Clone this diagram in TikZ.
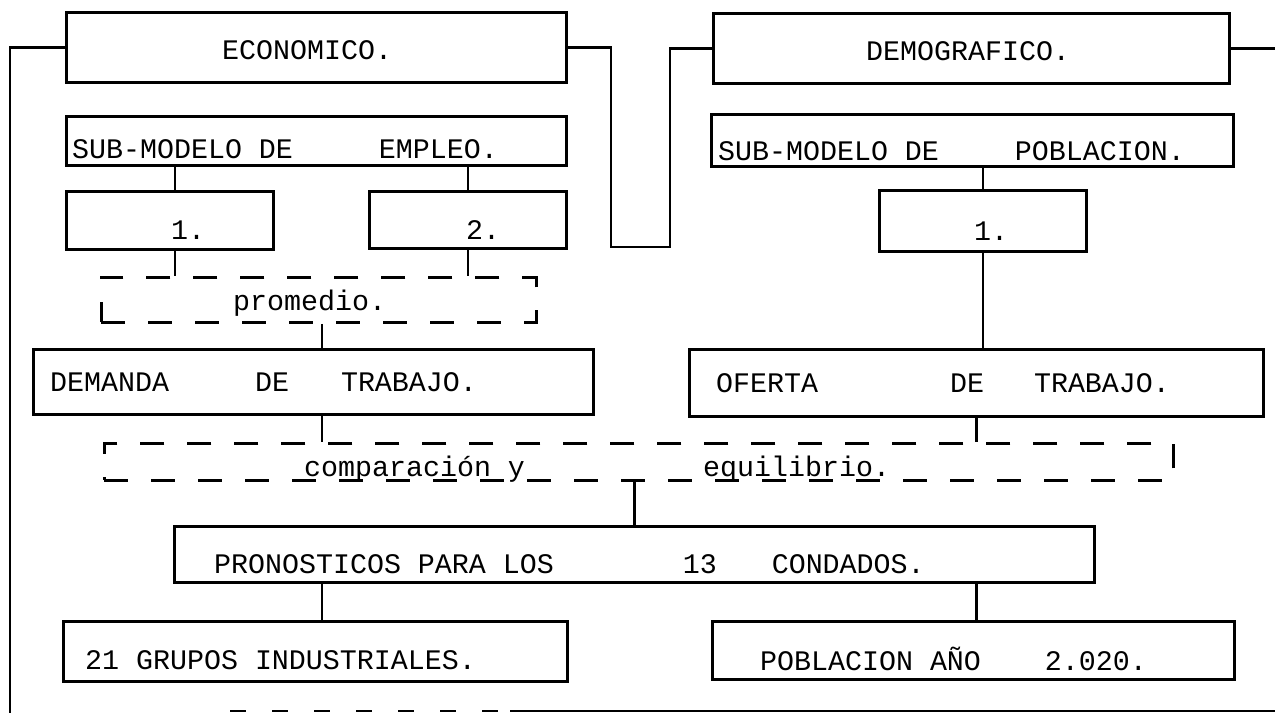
\documentclass[tikz,border=0pt]{standalone}
\usepackage{fontspec}
\setmonofont{Liberation Mono}
\begin{document}
\begin{tikzpicture}[x=1pt,y=-1pt,
  box/.style={draw, line width=2.9pt, inner sep=0pt, anchor=north west},
  dbox/.style={draw, line width=2.9pt, inner sep=0pt, anchor=north west, dash pattern=on 24pt off 23pt},
  conn/.style={draw, line width=2.9pt},
  lbl/.style={font=\ttfamily\fontsize{28.3pt}{34pt}\selectfont, inner sep=0pt, anchor=base west},
]
\useasboundingbox (0,0) rectangle (1275,713);
\fill[white] (0,0) rectangle (1275,713);

% boxes
\node[box, minimum width=500pt, minimum height=70pt] (eco) at (65,11) {};
\node[box, minimum width=516pt, minimum height=70pt] (dem) at (712,12) {};
\node[box, minimum width=500pt, minimum height=49pt] (subE) at (65,115) {};
\node[box, minimum width=522pt, minimum height=52pt] (subP) at (710,113) {};
\node[box, minimum width=207pt, minimum height=58pt] (bA) at (65,190) {};
\node[box, minimum width=197pt, minimum height=57pt] (bB) at (368,190) {};
\node[box, minimum width=207pt, minimum height=61pt] (bC) at (878,189) {};
\node[dbox, minimum width=435pt, minimum height=45pt] (prom) at (100,276) {};
\node[box, minimum width=560pt, minimum height=65pt] (dmd) at (32,348) {};
\node[box, minimum width=574pt, minimum height=67pt] (ofe) at (688,348) {};
\node[dbox, minimum width=1069pt, minimum height=37pt] (comp) at (103,442) {};
\node[box, minimum width=920pt, minimum height=56pt] (pro) at (173,525) {};
\node[box, minimum width=504pt, minimum height=60pt] (gru) at (62,620) {};
\node[box, minimum width=522pt, minimum height=58pt] (pob) at (711,620) {};

% texts
\node[lbl] (ecoT) at (222,59) {ECONOMICO.};
\node[lbl] (demT) at (866,60) {DEMOGRAFICO.};
\node[lbl] (subET) at (72,158) {SUB-MODELO DE\hspace{86pt}EMPLEO.};
\node[lbl] (subPT) at (718,160) {SUB-MODELO DE\hspace{76pt}POBLACION.};
\node[lbl] (bAT) at (171,239) {1.};
\node[lbl] (bBT) at (466,239) {2.};
\node[lbl] (bCT) at (974,240) {1.};
\node[lbl] (promT) at (233,310) {promedio.};
\node[lbl] (dmdT) at (50,391) {DEMANDA\hspace{86pt}DE\hspace{52pt}TRABAJO.};
\node[lbl] (ofeT) at (716,392) {OFERTA\hspace{132pt}DE\hspace{50pt}TRABAJO.};
\node[lbl] (compT) at (304,476) {comparación y};
\node[lbl] (compT2) at (703,476) {equilibrio.};
\node[lbl] (proT) at (214,573) {PRONOSTICOS PARA LOS\hspace{129pt}13\hspace{55pt}CONDADOS.};
\node[lbl] (gruT) at (85,669) {21 GRUPOS INDUSTRIALES.};
\node[lbl] (pobT) at (760,670) {POBLACION AÑO\hspace{64pt}2.020.};

% connector coordinates
\coordinate (botL) at (10,713);
\coordinate (mA) at (611,247);
\coordinate (mB) at (670,247);
\coordinate (rEnd) at (1275,44);
\coordinate (xA) at (175,0);
\coordinate (xD) at (322,0);

% outer connectors
\draw[conn] (eco.west) -| (botL);
\draw[conn] (eco.east) -| (mA) -| (mB) |- (dem.west);
\draw[conn] (dem.east) -- (dem.east -| rEnd);

% left tree
\draw[conn] (subE.south -| xA) -- (bA.north -| xA);
\draw[conn] (subE.south -| bB.north) -- (bB.north);
\draw[conn] (bA.south -| xA) -- (prom.north -| xA);
\draw[conn] (bB.south) -- (bB.south |- prom.north);
\draw[conn] (prom.south -| xD) -- (dmd.north -| xD);
\draw[conn] (dmd.south -| xD) -- (comp.north -| xD);

% right tree
\draw[conn] (subP.south -| bC.north) -- (bC.north);
\draw[conn] (bC.south) -- (bC.south |- ofe.north);
\draw[conn] (ofe.south) -- (ofe.south |- comp.north);

% bottom
\draw[conn] (comp.south -| pro.north) -- (pro.north);
\draw[conn] (pro.south -| xD) -- (gru.north -| xD);
\draw[conn] (pro.south -| ofe.south) -- (pob.north -| ofe.south);

% partial bottom line of the scan
\coordinate (bl1) at (230,711);
\coordinate (bl2) at (510,711);
\coordinate (bl3) at (900,711);
\draw[line width=2.4pt, dash pattern=on 16pt off 26pt] (bl1) -- (bl2);
\draw[line width=1.6pt] (bl2) -- (bl3);
\draw[conn] (bl3) -- (rEnd |- bl3);
\end{tikzpicture}
\end{document}
